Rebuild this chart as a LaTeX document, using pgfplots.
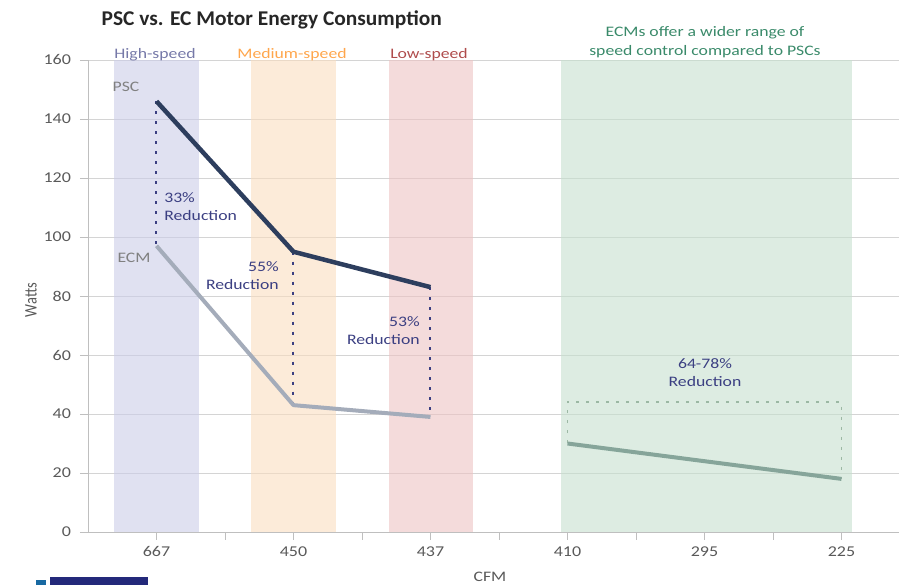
\documentclass[border=0pt]{standalone}
\usepackage{fontspec}
\setmainfont{Carlito}
\usepackage{pgfplots}
\pgfplotsset{compat=1.18}

\definecolor{pscline}{HTML}{2D3E5E}
\definecolor{ecmline}{HTML}{A4ACBA}
\definecolor{ecmgreen}{HTML}{86A59A}
\definecolor{bandhigh}{HTML}{CBCDE8}
\definecolor{bandmed}{HTML}{FADDBF}
\definecolor{bandlow}{HTML}{EDC3C3}
\definecolor{bandgreen}{HTML}{C6E0CE}
\definecolor{gridgray}{HTML}{D4D4D4}
\definecolor{axisgray}{HTML}{BFBFBF}
\definecolor{ticktext}{HTML}{595959}
\definecolor{annot}{HTML}{3B3F82}
\definecolor{greentext}{HTML}{3A8A6A}
\definecolor{dotgreen}{HTML}{9CB8A4}
\definecolor{logo}{HTML}{23297A}

\begin{document}
\begin{tikzpicture}[txt/.style={font=\fontsize{14.5}{18}\selectfont, xscale=1.22}]
\path[use as bounding box] (0,0) rectangle (899pt,585pt);
\begin{axis}[
  at={(88pt,53pt)}, anchor=south west,
  scale only axis, width=811pt, height=472pt,
  xmin=-0.5, xmax=5.42, ymin=0, ymax=160,
  axis x line*=bottom, axis y line*=left,
  axis line style={axisgray, line width=0.8pt},
  xtick={0,1,2,3,4,5},
  xticklabels={667,450,437,410,295,225},
  extra x ticks={0.5,1.5,2.5,3.5,4.5},
  extra x tick labels={},
  extra x tick style={grid=none},
  ytick={0,20,...,160},
  ymajorgrids, grid style={gridgray, line width=0.8pt},
  tick align=outside, major tick length=8pt,
  tick style={axisgray, line width=0.8pt},
  /pgf/number format/assume math mode=true,
  ticklabel style={font=\fontsize{15}{17}\selectfont, text=ticktext, xscale=1.2},
  xticklabel style={yshift=-3pt},
  yticklabel style={xshift=-4pt},
  clip=false,
]
\fill[bandhigh, fill opacity=0.6] (axis cs:-0.31,0) rectangle (axis cs:0.31,160);
\fill[bandmed, fill opacity=0.6] (axis cs:0.69,0) rectangle (axis cs:1.31,160);
\fill[bandlow, fill opacity=0.6] (axis cs:1.70,0) rectangle (axis cs:2.31,160);
\fill[bandgreen, fill opacity=0.6] (axis cs:2.95,0) rectangle (axis cs:5.08,160);

% reduction markers
\draw[annot, line width=2pt, dash pattern=on 3pt off 7pt] (axis cs:0,146) -- (axis cs:0,97);
\draw[annot, line width=2pt, dash pattern=on 3pt off 7pt] (axis cs:1,95) -- (axis cs:1,43);
\draw[annot, line width=2pt, dash pattern=on 3pt off 7pt] (axis cs:2,83) -- (axis cs:2,39);
\draw[dotgreen, line width=1.8pt, dash pattern=on 3pt off 7pt]
  (axis cs:3,30) -- (axis cs:3,44) -- (axis cs:5,44) -- (axis cs:5,18);

% PSC
\addplot[pscline, line width=4.5pt, line join=round] coordinates {
  (0,146) (1,95) (2,83)
};
% ECM (PSC speeds)
\addplot[ecmline, line width=4pt, line join=round] coordinates {
  (0,97) (1,43) (2,39)
};
% ECM (extended range)
\addplot[ecmgreen, line width=4pt, line join=round] coordinates {
  (3,30) (4,24) (5,18)
};
\end{axis}

% title and labels
\node[anchor=west, font=\fontsize{21}{25}\selectfont\bfseries, text=black!85, xscale=1.02] at (98pt,565pt) {PSC vs. EC Motor Energy Consumption};
\node[txt, text=ticktext, rotate=90] at (31pt,285pt) {Watts};
\node[txt, text=ticktext] at (490pt,8pt) {CFM};

\node[txt, text=annot!70] at (155pt,530pt) {High-speed};
\node[txt, text=orange!70] at (292pt,530pt) {Medium-speed};
\node[txt, text=red!55!black!70] at (429pt,530pt) {Low-speed};
\node[txt, text=greentext, align=center] at (705pt,543pt) {ECMs offer a wider range of\\[1pt]speed control compared to PSCs};

\node[txt, text=gray] at (126pt,498pt) {PSC};
\node[txt, text=gray] at (134pt,327pt) {ECM};

\node[txt, anchor=west, text=annot, align=left] at (160pt,378pt) {33\%\\Reduction};
\node[txt, anchor=east, text=annot, align=right] at (283pt,309pt) {55\%\\Reduction};
\node[txt, anchor=east, text=annot, align=right] at (424pt,254pt) {53\%\\Reduction};
\node[txt, text=annot, align=center] at (705pt,212pt) {64-78\%\\Reduction};

% logo strip
\fill[logo] (50pt,0pt) rectangle (148pt,8pt);
\fill[logo!70!cyan] (36pt,0pt) rectangle (46pt,5pt);
\end{tikzpicture}
\end{document}
